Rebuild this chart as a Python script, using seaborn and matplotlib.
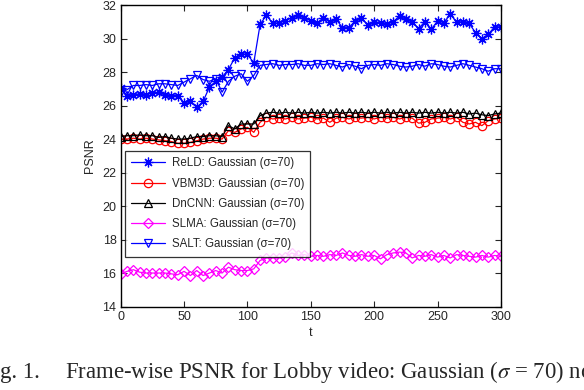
import numpy as np
import pandas as pd
import seaborn as sns
from matplotlib import pyplot as plt

# frame index (one marker every 5 frames)
t = list(range(0, 301, 5))

reld = [27.05, 26.6, 26.65, 26.7, 26.65, 26.75, 26.8, 26.65, 26.6, 26.6,
        26.15, 26.25, 25.9, 26.25, 27.1, 27.45, 27.7, 28.15, 28.85, 29.1,
        29.05, 28.55, 30.85, 31.4, 30.9, 30.95, 31.05, 31.25, 31.4, 31.25,
        31.05, 30.9, 31.25, 31.0, 31.15, 30.65, 30.65, 31.05, 31.25, 30.8,
        31.0, 30.95, 30.85, 31.0, 31.35, 31.15, 31.0, 30.6, 31.0, 30.55,
        31.05, 30.95, 31.45, 31.0, 31.0, 30.9, 30.35, 30.0, 30.25, 30.7, 30.7]

vbm3d = [24.0, 24.0, 24.05, 24.0, 24.05, 24.0, 23.95, 23.9, 23.85, 23.75,
         23.75, 23.8, 23.9, 24.0, 24.05, 24.05, 24.0, 24.5, 24.4, 24.6,
         24.7, 24.4, 25.0, 25.3, 25.2, 25.25, 25.2, 25.3, 25.2, 25.25,
         25.3, 25.2, 25.25, 25.0, 25.25, 25.3, 25.2, 25.3, 25.25, 25.3,
         25.2, 25.3, 25.25, 25.3, 25.2, 25.3, 25.25, 24.95, 25.0, 25.2,
         25.25, 25.3, 25.2, 25.3, 25.0, 24.9, 25.0, 24.8, 25.1, 25.2, 25.25]

dncnn = [24.15, 24.2, 24.2, 24.25, 24.2, 24.2, 24.1, 24.15, 24.05, 24.0,
         24.0, 24.05, 24.15, 24.15, 24.2, 24.2, 24.15, 24.8, 24.6, 24.9,
         24.9, 24.9, 25.4, 25.55, 25.6, 25.55, 25.6, 25.55, 25.6, 25.55,
         25.6, 25.55, 25.6, 25.55, 25.6, 25.55, 25.6, 25.55, 25.6, 25.55,
         25.6, 25.55, 25.6, 25.55, 25.6, 25.55, 25.6, 25.55, 25.6, 25.55,
         25.6, 25.55, 25.6, 25.55, 25.6, 25.5, 25.55, 25.45, 25.4, 25.5, 25.55]

slma = [15.95, 16.1, 16.2, 16.05, 16.0, 16.0, 16.0, 16.0, 15.95, 15.9,
        16.1, 15.85, 16.15, 15.85, 16.0, 16.15, 16.0, 16.35, 16.2, 16.15,
        16.15, 16.25, 16.75, 16.9, 16.9, 16.9, 16.95, 17.2, 17.05, 17.1,
        17.0, 17.05, 17.0, 17.1, 17.05, 17.2, 17.05, 17.0, 17.1, 17.0,
        17.05, 16.85, 17.1, 17.2, 17.25, 17.2, 16.9, 17.05, 17.0, 17.1,
        16.95, 17.05, 16.9, 17.1, 17.05, 17.0, 16.95, 17.05, 16.95, 17.05, 17.0]

salt = [26.8, 26.95, 27.2, 27.2, 27.25, 27.2, 27.3, 27.3, 27.25, 27.2,
        27.4, 27.6, 27.8, 27.55, 27.45, 27.6, 26.8, 27.45, 27.75, 27.9,
        27.45, 27.8, 28.4, 28.45, 28.5, 28.4, 28.45, 28.45, 28.5, 28.4,
        28.4, 28.5, 28.45, 28.5, 28.4, 28.3, 28.45, 28.35, 28.2, 28.4,
        28.45, 28.4, 28.5, 28.45, 28.35, 28.3, 28.35, 28.45, 28.35, 28.5,
        28.45, 28.35, 28.3, 28.4, 28.5, 28.4, 28.3, 28.2, 28.05, 28.2, 28.2]

labels = ['ReLD: Gaussian (σ=70)', 'VBM3D: Gaussian (σ=70)', 'DnCNN: Gaussian (σ=70)',
          'SLMA: Gaussian (σ=70)', 'SALT: Gaussian (σ=70)']
series = [reld, vbm3d, dncnn, slma, salt]
colors = ['#0000ff', '#ff0000', '#000000', '#ff00ff', '#0000ff']
markers = [(8, 2, 0), 'o', '^', 'D', 'v']
msizes = [7, 6, 6, 5, 6]

sns.set_theme(style="ticks")
plt.rcParams['font.family'] = ['Liberation Sans', 'DejaVu Sans']
plt.rcParams['mathtext.fontset'] = 'stix'

fig = plt.figure(figsize=(5.84, 3.9), dpi=100)
ax = fig.add_axes([0.2067, 0.214, 0.651, 0.773])

for vals, lab, c, m, ms in zip(series, labels, colors, markers, msizes):
    sns.lineplot(x=t, y=vals, ax=ax, color=c, marker=m, markersize=ms,
                 markerfacecolor='none', markeredgecolor=c, markeredgewidth=0.9,
                 linewidth=0.9, label=lab)

ax.set_xlim(0, 300)
ax.set_ylim(14, 32)
ax.set_xticks(range(0, 301, 50))
ax.set_yticks(range(14, 33, 2))
ax.tick_params(direction='in', top=True, right=True, labelsize=9, length=4, width=0.8, pad=3)
for sp in ax.spines.values():
    sp.set_linewidth(1.0)
    sp.set_color('black')
ax.set_xlabel('t', fontsize=9, labelpad=3)
ax.set_ylabel('PSNR', fontsize=9, labelpad=5)

leg = ax.legend(loc='lower left', bbox_to_anchor=(0.011, 0.165, 0.487, 0.338),
                mode='expand', fontsize=8.3, frameon=True, fancybox=False,
                borderaxespad=0, handlelength=2.9, labelspacing=0.72,
                borderpad=0.55, handletextpad=0.6)
leg.get_frame().set_edgecolor('black')
leg.get_frame().set_linewidth(0.9)

serif = ['Liberation Serif', 'DejaVu Serif']
fig.text(0.068, 0.031, 'Fig. 1.', fontsize=16.4, family=serif, ha='right', va='baseline')
fig.text(0.111, 0.031, 'Frame-wise PSNR for Lobby video: Gaussian ($\\sigma$ = 70) noise',
         fontsize=16.4, family=serif, ha='left', va='baseline')

fig.savefig('out.png', dpi=100)
